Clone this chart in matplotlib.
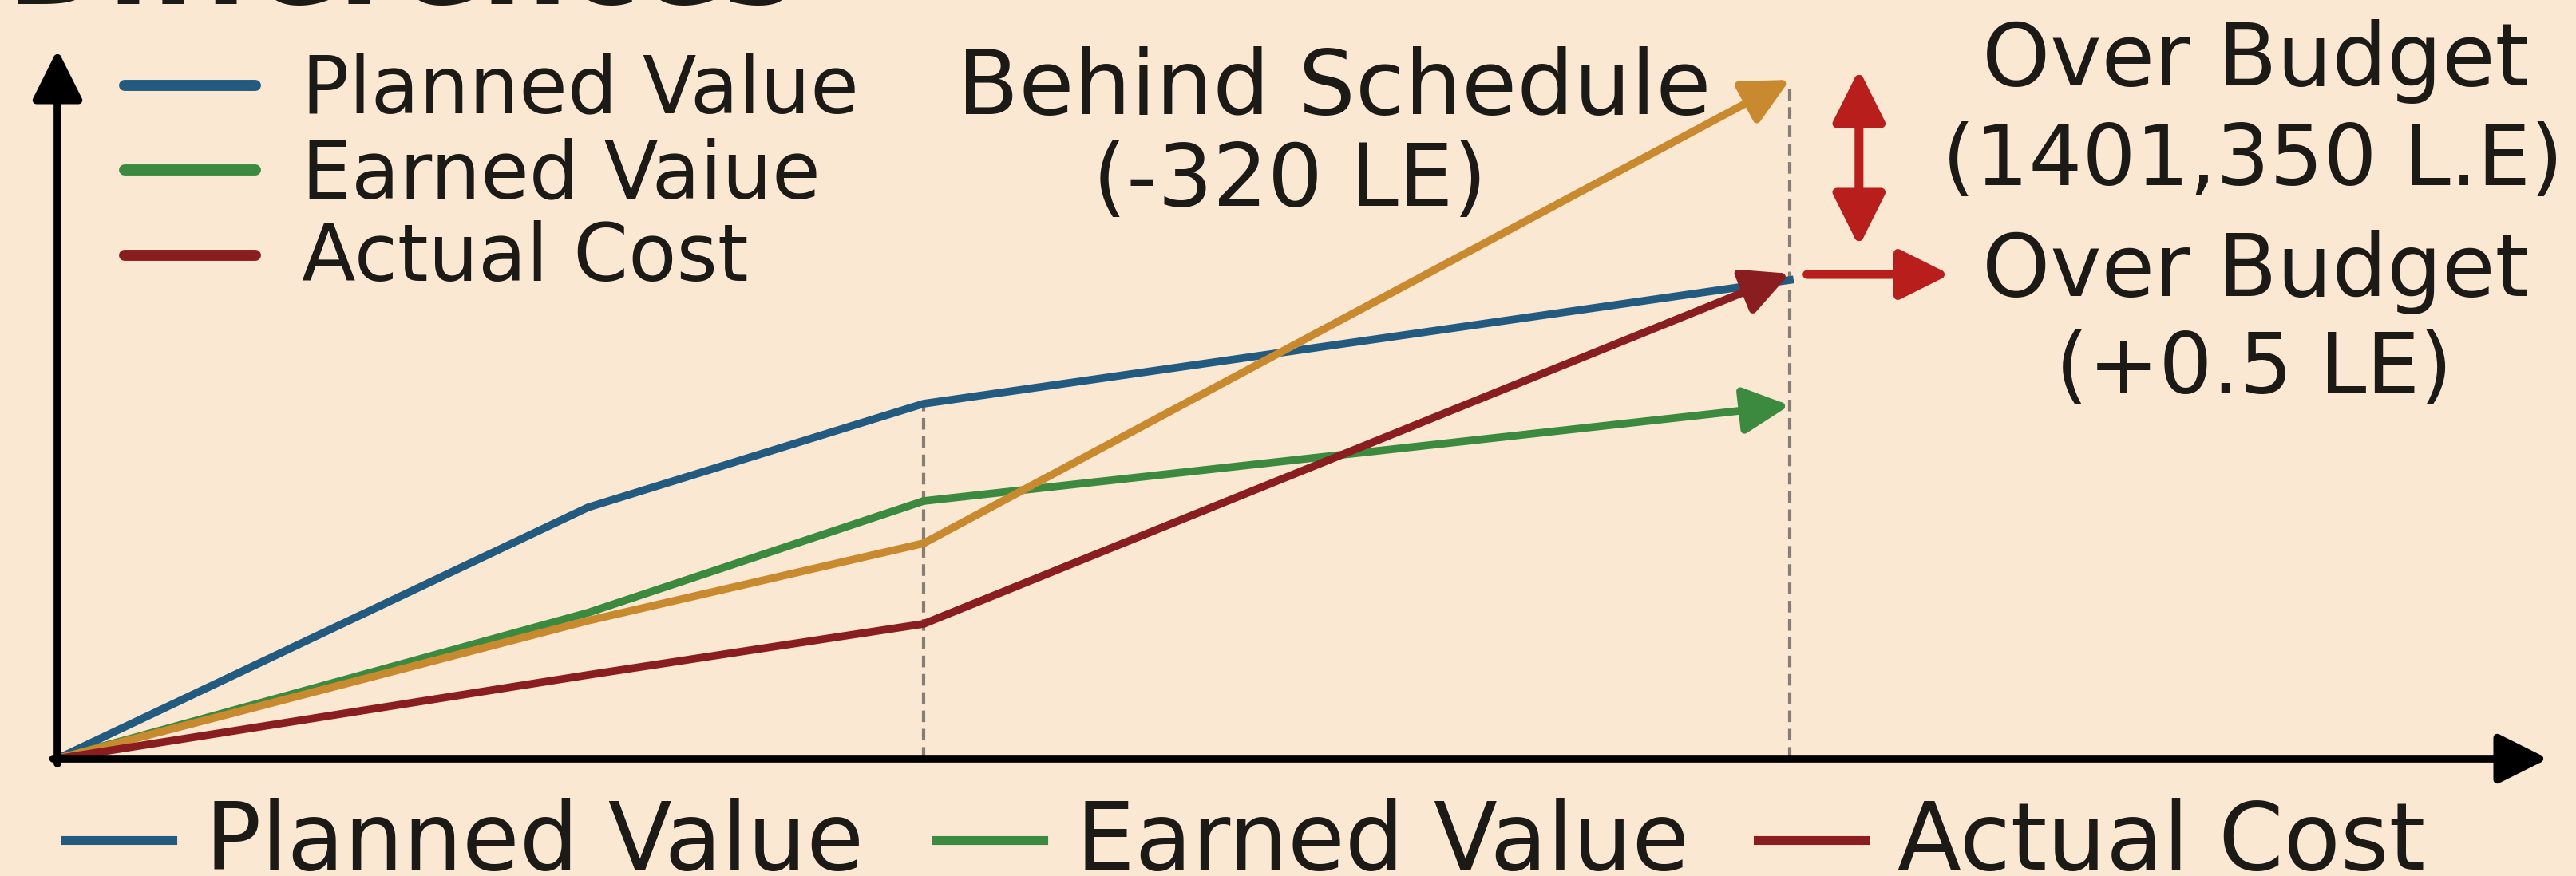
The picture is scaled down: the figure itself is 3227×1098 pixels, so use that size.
import matplotlib
matplotlib.use('Agg')
import matplotlib.pyplot as plt
from matplotlib.patches import FancyArrowPatch
from matplotlib.lines import Line2D

# time points (months) and cumulative values (thousand LE)
t = [0, 2.45, 4, 8]
planned = [0, 31.5, 44.5, 60.0]
earned = [0, 18.3, 32.3, 44.3]
forecast = [0, 17.3, 27.0, 85.1]
actual = [0, 10.5, 16.9, 60.8]

labels = ['Planned Value', 'Earned Value', 'Actual Cost']
top_labels = ['Planned Value', 'Earned Vaiue', 'Actual Cost']

W, H = 3227, 1098
bg = '#fbe8d3'
c_pv = '#225a80'
c_ev = '#3c8a3f'
c_ac = '#8a1d1f'
c_fc = '#c98a2f'
c_red = '#b81f1c'
c_dash = '#857e74'
c_txt = '#1c1a17'

fig = plt.figure(figsize=(W / 100, H / 100), dpi=100, facecolor=bg)
ax = fig.add_axes([0, 0, 1, 1])
ax.set_facecolor(bg)

# origin at pixel (72, 951); 271.25 px per month, 10 px per unit
x0, y0, sx, sy = 72, 951, 271.25, 10.0
ax.set_xlim(-x0 / sx, (W - x0) / sx)
ax.set_ylim(-(H - y0) / sy, y0 / sy)
ax.axis('off')


def fx(px):
    return px / W


def fy(py):
    return 1 - py / H


# dashed guides
ax.plot([t[2], t[2]], [0, planned[2]], color=c_dash, lw=3, dashes=(3.5, 2), zorder=1)
ax.plot([t[3], t[3]], [0, 84], color=c_dash, lw=3, dashes=(3.5, 2), zorder=1)

# axes arrows
ax.annotate('', xy=(0, (y0 - 62) / sy), xytext=(0, -0.6),
            arrowprops=dict(arrowstyle='-|>', color='black', lw=7, mutation_scale=95,
                            shrinkA=0, shrinkB=0), zorder=5)
ax.annotate('', xy=((3192 - x0) / sx, 0), xytext=(-0.02, 0),
            arrowprops=dict(arrowstyle='-|>', color='black', lw=7, mutation_scale=95,
                            shrinkA=0, shrinkB=0), zorder=5)

lw = 7
series = [(planned, c_pv, False), (earned, c_ev, True), (forecast, c_fc, True), (actual, c_ac, True)]
for vals, col, head in series:
    if head:
        ax.plot(t[:-1], vals[:-1], color=col, lw=lw, solid_joinstyle='round',
                solid_capstyle='round', zorder=3)
        ax.add_patch(FancyArrowPatch((t[-2], vals[-2]), (t[-1], vals[-1]),
                                     arrowstyle='-|>', mutation_scale=88, color=col,
                                     lw=lw, shrinkA=0, shrinkB=0, zorder=4))
    else:
        ax.plot(t, vals, color=col, lw=lw, solid_joinstyle='round', zorder=3)

# over budget arrows
ax.add_patch(FancyArrowPatch((8.32, 64.2), (8.32, 86.4), arrowstyle='<|-|>',
                             mutation_scale=100, color=c_red, lw=8, shrinkA=0, shrinkB=0))
ax.add_patch(FancyArrowPatch((8.08, 60.7), (8.74, 60.7), arrowstyle='-|>',
                             mutation_scale=95, color=c_red, lw=8, shrinkA=0, shrinkB=0))

# annotations
ax.text(fx(1671), fy(143), 'Behind Schedule', transform=fig.transFigure,
        ha='center', va='baseline', fontsize=81, color=c_txt)
ax.text(fx(1616), fy(258), '(-320 LE)', transform=fig.transFigure,
        ha='center', va='baseline', fontsize=78, color=c_txt)
ax.text(fx(2826), fy(107), 'Over Budget', transform=fig.transFigure,
        ha='center', va='baseline', fontsize=78, color=c_txt)
ax.text(fx(2822), fy(232), '(1401,350 L.E)', transform=fig.transFigure,
        ha='center', va='baseline', fontsize=76, color=c_txt)
ax.text(fx(2826), fy(371), 'Over Budget', transform=fig.transFigure,
        ha='center', va='baseline', fontsize=78, color=c_txt)
ax.text(fx(2824), fy(493), '(+0.5 LE)', transform=fig.transFigure,
        ha='center', va='baseline', fontsize=76, color=c_txt)

# clipped title at the very top
ax.text(fx(8), fy(5), 'Differences', transform=fig.transFigure, ha='left',
        va='baseline', fontsize=110, fontweight='bold', color=c_txt)

# top-left legend
cols = [c_pv, c_ev, c_ac]
for i, (lab, col) in enumerate(zip(top_labels, cols)):
    yy = [107, 213, 320][i]
    fig.add_artist(Line2D([fx(156), fx(320)], [fy(yy), fy(yy)], color=col, lw=10,
                          solid_capstyle='round', transform=fig.transFigure))
    ax.text(fx(378), fy([141, 248, 352][i]), lab, transform=fig.transFigure,
            ha='left', va='baseline', fontsize=71, color=c_txt)

# bottom legend
hx = [82, 1173, 2202]
tx = [257, 1348, 2377]
for lab, col, h0, t0 in zip(labels, cols, hx, tx):
    fig.add_artist(Line2D([fx(h0), fx(h0 + 134)], [fy(1053), fy(1053)], color=col, lw=8,
                          transform=fig.transFigure))
    ax.text(fx(t0), fy(1090), lab, transform=fig.transFigure,
            ha='left', va='baseline', fontsize=84, color=c_txt)

fig.savefig('out.png', dpi=100, facecolor=bg)
